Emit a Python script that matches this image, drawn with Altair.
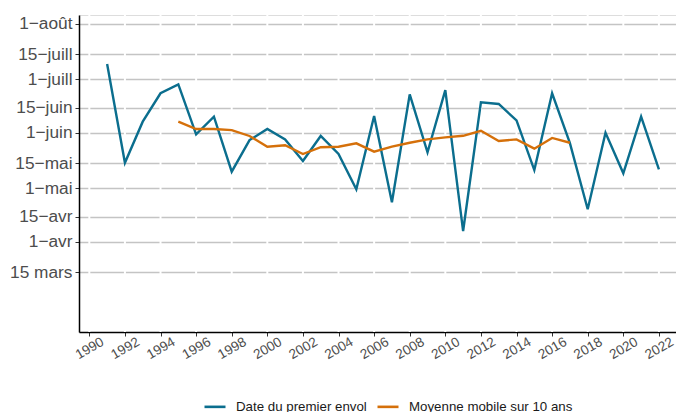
import altair as alt
import pandas as pd

# ---- data ----
years = list(range(1991, 2023))
first_flight = [190.6, 135.3, 158.3, 174.2, 179.2, 151.2, 161.1, 130.3, 148.0, 154.2,
                148.4, 136.3, 150.3, 140.2, 120.4, 161.5, 113.2, 173.6, 141.2, 176.0,
                97.1, 169.1, 168.2, 159.0, 131.2, 174.2, 146.3, 109.3, 152.1, 129.4,
                161.1, 131.6]

ma_years = list(range(1995, 2018))
moving_avg = [158.3, 154.2, 154.2, 153.6, 150.3, 144.3, 145.1, 140.2, 144.0, 144.3,
              146.2, 141.5, 144.3, 146.5, 148.4, 149.5, 150.4, 153.2, 147.5, 148.4,
              143.2, 149.2, 146.5]

series_names = ["Date du premier envol", "Moyenne mobile sur 10 ans"]
series_colors = ["#0b6e8e", "#d5700a"]

y_tick_values = [74, 91, 105, 121, 135, 152, 166, 182, 196, 213]
y_tick_labels = ["15 mars", "1\u2212avr", "15\u2212avr", "1\u2212mai", "15\u2212mai",
                 "1\u2212juin", "15\u2212juin", "1\u2212juill", "15\u2212juill", "1\u2212ao\u00fbt"]

x_tick_values = list(range(1990, 2023, 2))

# ---- tables ----
df = pd.concat([
    pd.DataFrame({"annee": years, "jour": first_flight, "serie": series_names[0]}),
    pd.DataFrame({"annee": ma_years, "jour": moving_avg, "serie": series_names[1]}),
])
grid_df = pd.DataFrame({"annee": x_tick_values})

FONT = "Liberation Sans"
x_scale = alt.Scale(domain=[1989.42, 2022.96], nice=False, zero=False)
y_scale = alt.Scale(domain=[40.6, 218.0], nice=False, zero=False)

label_expr = "[" + ",".join("'%s'" % s for s in y_tick_labels) + "][indexof([" + \
    ",".join(str(v) for v in y_tick_values) + "], datum.value)]"

x_axis = alt.Axis(values=x_tick_values, format="d", title=None, grid=False,
                  labelAngle=330, labelAlign="center", labelBaseline="middle",
                  labelPadding=12, labelFontSize=13.6, labelColor="#4d4d4d",
                  labelFont=FONT, tickSize=4, tickColor="#333333",
                  domainColor="black", domainWidth=1.5, labelOverlap=False,
                  labelBound=False, labelFlush=False)

vgrid = alt.Chart(grid_df).mark_rule(color="white", strokeWidth=2).encode(
    x=alt.X("annee:Q", scale=x_scale, axis=x_axis),
)

lines = alt.Chart(df).mark_line(strokeWidth=2.4, strokeJoin="miter").encode(
    x=alt.X("annee:Q", scale=x_scale, axis=x_axis),
    y=alt.Y("jour:Q", scale=y_scale,
            axis=alt.Axis(values=y_tick_values, labelExpr=label_expr, title=None,
                          grid=True, gridColor="#c4c4c4", gridWidth=1.5,
                          labelFontSize=17.3, labelColor="#4d4d4d", labelFont=FONT,
                          labelPadding=3, tickSize=4, tickColor="#333333",
                          domainColor="black", domainWidth=1.5, labelOverlap=False)),
    color=alt.Color("serie:N",
                    scale=alt.Scale(domain=series_names, range=series_colors),
                    legend=alt.Legend(title=None, orient="none", direction="horizontal",
                                      legendX=124, legendY=379.5,
                                      symbolType="stroke", symbolSize=441,
                                      symbolStrokeWidth=2.6, labelOffset=9,
                                      columnPadding=5, labelFontSize=13.3,
                                      labelLimit=400,
                                      labelFont=FONT, labelColor="#1a1a1a",
                                      padding=0)),
    detail="serie:N",
)

chart = alt.layer(vgrid, lines).properties(
    width=597, height=317,
    autosize=alt.AutoSizeParams(type="none"),
    padding={"left": 71, "top": 7, "right": 0, "bottom": 90},
).configure_view(stroke=None).configure(background="white")

chart.save("out.html", embed_options={"renderer": "svg", "actions": False})
